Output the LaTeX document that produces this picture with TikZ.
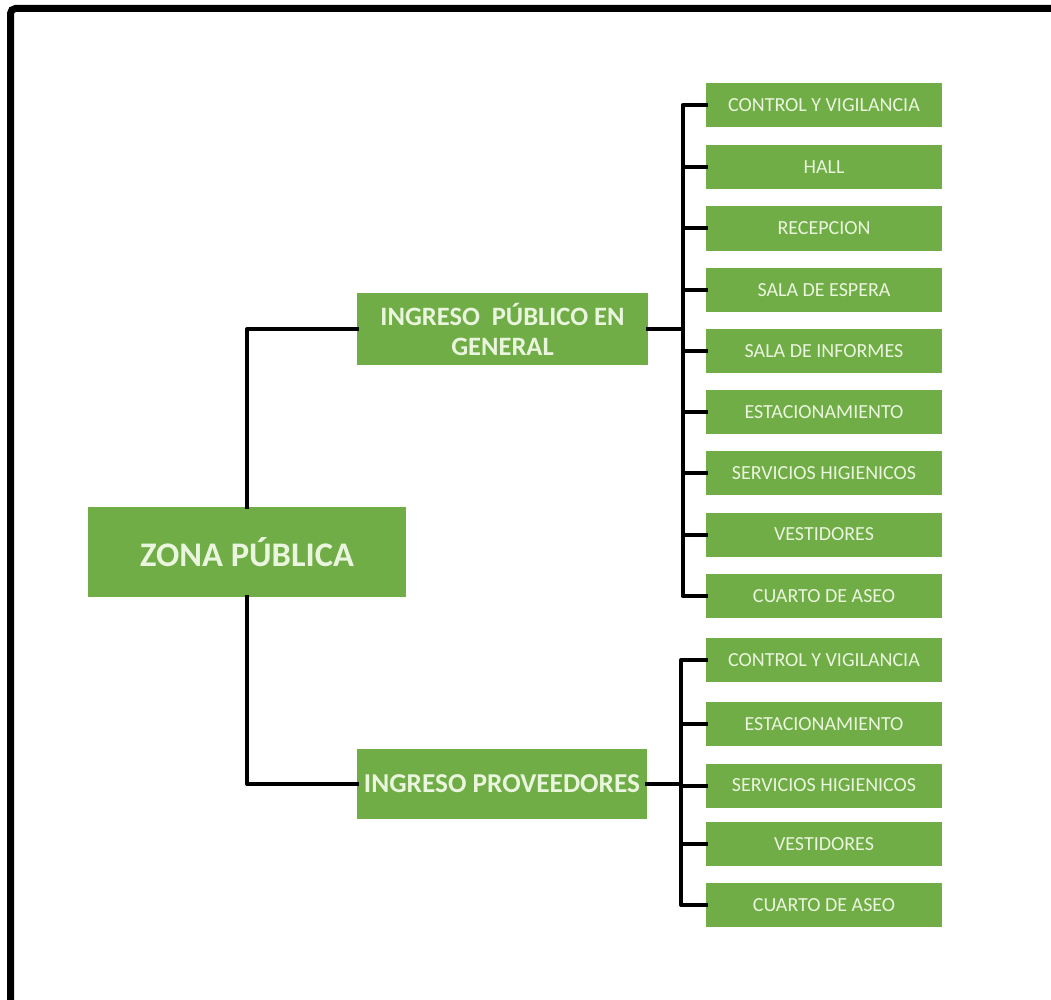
\documentclass[tikz,border=0pt]{standalone}
\usepackage{fontspec}
\setmainfont{Carlito}
\definecolor{boxgreen}{HTML}{70AD47}
\definecolor{boxtext}{HTML}{EAF5DD}
\begin{document}
\begin{tikzpicture}[x=1pt,y=-1pt,
  greenbox/.style={fill=boxgreen,draw=none,text=boxtext,inner sep=0pt,align=center},
  leafbox/.style={greenbox,minimum width=236pt,minimum height=44pt,font=\fontsize{20}{23}\selectfont},
  wire/.style={draw=black,line width=4pt,line join=round,line cap=rect}]
\useasboundingbox (0,0) rectangle (1051,1000);
\fill[white] (0,0) rectangle (1051,1000);
% outer frame (only left and top edges visible)
\draw[line width=7pt,rounded corners=5pt] (10.5,1010) -- (10.5,8.5) -- (1060,8.5);

% main nodes
\node[greenbox,minimum width=318pt,minimum height=90pt,font=\bfseries\fontsize{34.5}{38}\selectfont] (zp) at (247,552) {ZONA PÚBLICA};
\node[greenbox,minimum width=291pt,minimum height=72pt,font=\bfseries\fontsize{26.5}{30}\selectfont] (ip) at (502.5,329) {INGRESO\ \ PÚBLICO EN\\GENERAL};
\node[greenbox,minimum width=290pt,minimum height=70pt,font=\bfseries\fontsize{27.3}{31}\selectfont] (pv) at (502,784) {INGRESO PROVEEDORES};

% group 1 leaves
\node[leafbox] (a1) at (824,105.5) {CONTROL Y VIGILANCIA};
\node[leafbox] (a2) at (824,166.8) {HALL};
\node[leafbox] (a3) at (824,228.5) {RECEPCION};
\node[leafbox] (a4) at (824,289.8) {SALA DE ESPERA};
\node[leafbox] (a5) at (824,351) {SALA DE INFORMES};
\node[leafbox] (a6) at (824,412) {ESTACIONAMIENTO};
\node[leafbox] (a7) at (824,473.3) {SERVICIOS HIGIENICOS};
\node[leafbox] (a8) at (824,534.5) {VESTIDORES};
\node[leafbox] (a9) at (824,596) {CUARTO\ DE ASEO};

% group 2 leaves
\node[leafbox] (b1) at (824,660) {CONTROL Y VIGILANCIA};
\node[leafbox] (b2) at (824,724) {ESTACIONAMIENTO};
\node[leafbox] (b3) at (824,785.5) {SERVICIOS HIGIENICOS};
\node[leafbox] (b4) at (824,844) {VESTIDORES};
\node[leafbox] (b5) at (824,905) {CUARTO\ DE ASEO};

% connectors from root
\draw[wire] (zp.north) |- (ip.west);
\draw[wire] (zp.south) |- (pv.west);

% bus for group 1
\coordinate (busA) at (682.5,329);
\draw[wire] (ip.east) -- (busA);
\draw[wire] (a1.west) -| (busA |- a9.west) -- (a9.west);
\foreach \n in {a2,a3,a4,a5,a6,a7,a8}{
  \draw[wire] (busA |- \n.west) -- (\n.west);
}

% bus for group 2
\coordinate (busB) at (681,784);
\draw[wire] (pv.east) -- (busB);
\draw[wire] (b1.west) -| (busB |- b5.west) -- (b5.west);
\foreach \n in {b2,b3,b4}{
  \draw[wire] (busB |- \n.west) -- (\n.west);
}
\end{tikzpicture}
\end{document}
